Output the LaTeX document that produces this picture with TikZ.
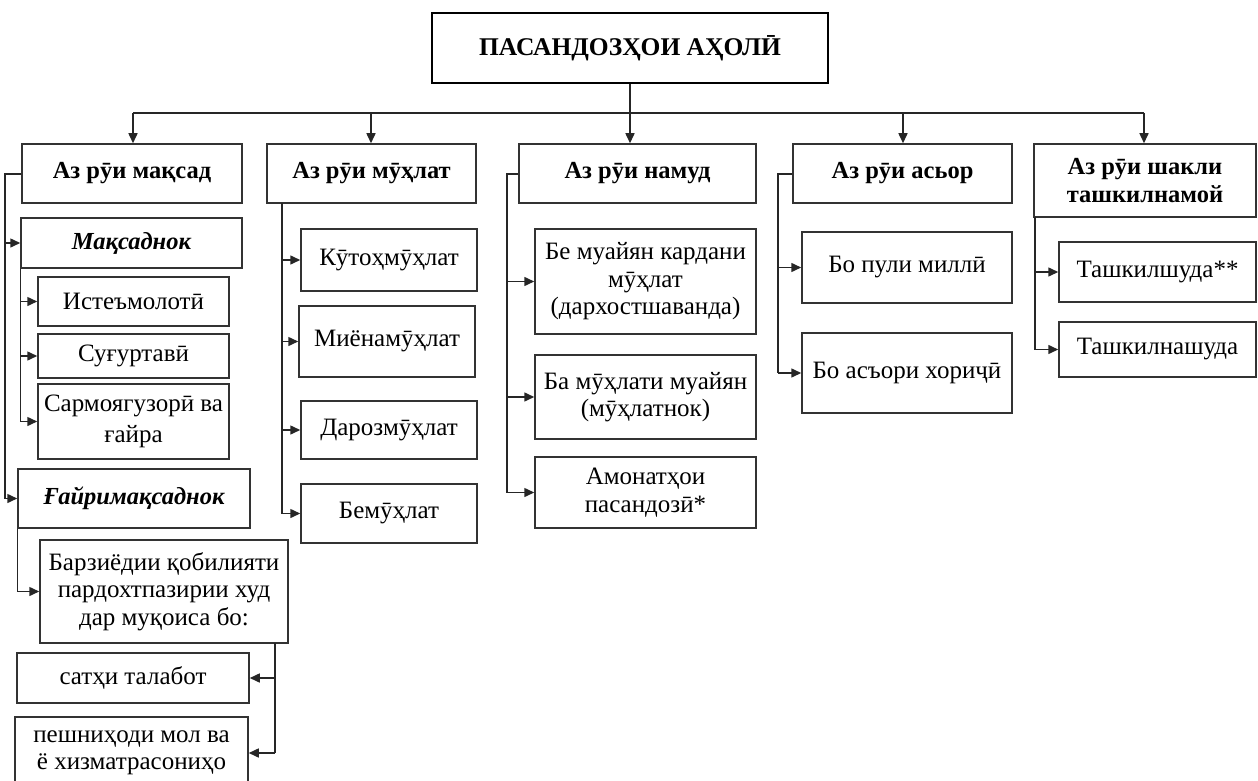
\documentclass[tikz,border=0pt]{standalone}
\usepackage{fontspec}
\setmainfont{Liberation Serif}
\usetikzlibrary{arrows.meta}
\newcommand\bx[7]{\node[#6, minimum width={(#4-#2)*1pt}, minimum height={(#5-#3)*1pt}] (#1) at ({(#2+#4)/2},{(#3+#5)/2}) {#7};}
\tikzset{
  box/.style={draw=black!80, line width=1.5pt, align=center, inner sep=0pt, font=\fontsize{25}{27.5}\selectfont},
  hdr/.style={box, font=\fontsize{24.5}{27.5}\selectfont\bfseries},
  ital/.style={box, font=\fontsize{24.5}{27.5}\selectfont\bfseries\itshape},
  titlebox/.style={draw=black, line width=2.8pt, align=center, inner sep=0pt, font=\fontsize{25.5}{28}\selectfont\bfseries},
  ln/.style={line width=1.5pt, draw=black!85},
  arr/.style={ln, -{Triangle[length=10pt,width=9pt]}},
}
\begin{document}
\begin{tikzpicture}[x=1pt,y=-1pt]
\useasboundingbox (0,0) rectangle (1258,781);
% title
\bx{top}{432}{13}{828}{83}{titlebox}{ПАСАНДОЗҲОИ АҲОЛӢ}
% headers
\bx{h1}{22}{144}{242}{203}{hdr}{Аз рӯи мақсад}
\bx{h2}{267}{144}{476}{203}{hdr}{Аз рӯи мӯҳлат}
\bx{h3}{519}{144}{756}{203}{hdr}{Аз рӯи намуд}
\bx{h4}{793}{144}{1012}{203}{hdr}{Аз рӯи асьор}
\bx{h5}{1034}{144}{1256}{217}{hdr}{Аз рӯи шакли\\ташкилнамой}
% column 1
\bx{m1}{21}{218}{242}{268}{ital}{Мақсаднок}
\bx{m11}{38}{277}{229}{326}{box}{Истеъмолотӣ}
\bx{m12}{38}{334}{229}{378}{box}{Суғуртавӣ}
\bx{m13}{38}{384}{229}{459}{box}{Сармоягузорӣ ва\\[3pt]ғайра}
\bx{m2}{18}{469}{250}{528}{ital}{Ғайримақсаднок}
\bx{m21}{40}{540}{288}{643}{box}{Барзиёдии қобилияти\\пардохтпазирии худ\\дар муқоиса бо:}
\bx{m211}{17}{653}{249}{703}{box}{сатҳи талабот}
\bx{m212}{15}{717}{248}{789}{box}{пешниҳоди мол ва\\ё хизматрасониҳо}
% column 2
\bx{d1}{301}{229}{477}{291}{box}{Кӯтоҳмӯҳлат}
\bx{d2}{299}{306}{475}{377}{box}{Миёнамӯҳлат}
\bx{d3}{301}{401}{477}{459}{box}{Дарозмӯҳлат}
\bx{d4}{301}{484}{477}{543}{box}{Бемӯҳлат}
% column 3
\bx{n1}{535}{229}{756}{334}{box}{Бе муайян кардани\\мӯҳлат\\(дархостшаванда)}
\bx{n2}{535}{355}{756}{439}{box}{Ба мӯҳлати муайян\\(мӯҳлатнок)}
\bx{n3}{535}{457}{756}{528}{box}{Амонатҳои\\пасандозӣ*}
% column 4
\bx{a1}{802}{232}{1012}{303}{box}{Бо пули миллӣ}
\bx{a2}{802}{333}{1012}{413}{box}{Бо асъори хориҷӣ}
% column 5
\bx{s1}{1059}{242}{1256}{302}{box}{Ташкилшуда**}
\bx{s2}{1059}{322}{1256}{377}{box}{Ташкилнашуда}
% top connectors
\coordinate (bL) at (133,113);
\coordinate (b2) at (371,113);
\coordinate (b4) at (903,113);
\coordinate (bR) at (1144,113);
\draw[arr] (top.south) -- (top.south |- h3.north);
\draw[ln] (bL) -- (bR);
\draw[arr] (bL) -- (bL |- h1.north);
\draw[arr] (b2) -- (b2 |- h2.north);
\draw[arr] (b4) -- (b4 |- h4.north);
\draw[arr] (bR) -- (bR |- h5.north);
% column 1 connectors
\coordinate (t1) at (5,174);
\draw[ln] (h1.west |- t1) -- (t1) -- (t1 |- m2.west);
\draw[arr] (t1 |- m1.west) -- (m1.west);
\draw[arr] (t1 |- m2.west) -- (m2.west);
\draw[ln] (m1.south west) -- (m1.south west |- m13.west);
\draw[arr] (m1.south west |- m11.west) -- (m11.west);
\draw[arr] (m1.south west |- m12.west) -- (m12.west);
\draw[arr] (m1.south west |- m13.west) -- (m13.west);
\draw[ln] (m2.south west) -- (m2.south west |- m21.west);
\draw[arr] (m2.south west |- m21.west) -- (m21.west);
\coordinate (t21) at (275,643);
\draw[ln] (t21) -- (t21 |- m212.east);
\draw[arr] (t21 |- m211.east) -- (m211.east);
\draw[arr] (t21 |- m212.east) -- (m212.east);
% column 2
\coordinate (t2) at (282,203);
\draw[ln] (t2) -- (t2 |- d4.west);
\draw[arr] (t2 |- d1.west) -- (d1.west);
\draw[arr] (t2 |- d2.west) -- (d2.west);
\draw[arr] (t2 |- d3.west) -- (d3.west);
\draw[arr] (t2 |- d4.west) -- (d4.west);
% column 3
\coordinate (t3) at (507,174);
\draw[ln] (h3.west |- t3) -- (t3) -- (t3 |- n3.west);
\draw[arr] (t3 |- n1.west) -- (n1.west);
\draw[arr] (t3 |- n2.west) -- (n2.west);
\draw[arr] (t3 |- n3.west) -- (n3.west);
% column 4
\coordinate (t4) at (778,174);
\draw[ln] (h4.west |- t4) -- (t4) -- (t4 |- a2.west);
\draw[arr] (t4 |- a1.west) -- (a1.west);
\draw[arr] (t4 |- a2.west) -- (a2.west);
% column 5
\coordinate (t5) at (1035,217);
\draw[ln] (t5) -- (t5 |- s2.west);
\draw[arr] (t5 |- s1.west) -- (s1.west);
\draw[arr] (t5 |- s2.west) -- (s2.west);
\end{tikzpicture}
\end{document}
